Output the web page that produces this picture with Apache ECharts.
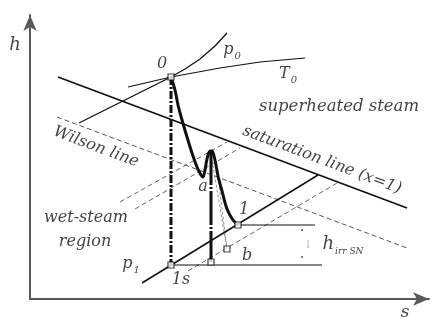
<!DOCTYPE html>
<html>
<head>
<meta charset="utf-8">
<title>h-s diagram</title>
<script src="https://cdn.jsdelivr.net/npm/echarts@6/dist/echarts.min.js"></script>
<style>
  html, body { margin: 0; padding: 0; background: #fff; }
  #chart { width: 439px; height: 326px; }
</style>
</head>
<body>
<div id="chart"></div>
<script>
// all values are (s, h) in diagram units
const point0 = [141, 222];
const point1 = [208, 74];
const point1s = [141, 34];
const pointB = [197, 50];
const pointFoot = [181, 37]; // foot of the second vertical

const saturationLine = [[28, 222], [377, 91]];
const wilsonLine = [[27, 182], [377, 51]];
const isobarP0 = [[49, 176], [141, 222], [155, 230], [170, 240], [185, 253], [197, 266]];
const isothermT0 = [[98, 212], [141, 222], [190, 231], [230, 237], [275, 241]];
const isobarP1 = [[112, 16], [288, 124]];
const isobarB = [[158, 28], [307, 116]];
const dashA = [[90, 97], [197, 157]];
const dashB = [[105, 90], [210, 151]];
const toB1 = [[182, 139], pointB];
const toB2 = [[188, 122], pointB];

// real expansion 0 -> a -> 1 (thick curve)
const expansion = [
  [141, 222], [145, 209], [148, 194], [152, 179], [157, 162], [162, 146],
  [167, 132], [171, 124], [173, 122], [175, 129], [177, 140], [180, 148],
  [182, 148], [185, 139], [188, 123], [192, 108], [197, 90], [203, 79], [208, 74]
];
const isentrope0 = [point0, point1s];
const isentropeA = [[181, 148], pointFoot];
const level1 = [point1, [285, 74]];
const level1s = [point1s, [292, 34]];
const hirrDots = [[272, 69], [272, 42]];

const chart = echarts.init(document.getElementById("chart"));

const serif = "DejaVu Serif";
const ink = "#111";

function line(data, width, type, color) {
  return {
    type: "line",
    data: data,
    showSymbol: false,
    silent: true,
    animation: false,
    clip: false,
    lineStyle: { width: width, type: type || "solid", color: color || ink },
  };
}

// text placed at diagram coordinates
function note(value, text, size, rotate, extra) {
  return {
    value: value,
    label: Object.assign(
      {
        show: true,
        position: "inside",
        formatter: text,
        fontFamily: serif,
        fontStyle: "italic",
        fontSize: size,
        color: ink,
        rotate: rotate || 0,
      },
      extra || {}
    ),
  };
}

const subRich = {
  i: { fontFamily: serif, fontStyle: "italic", fontSize: 16, color: ink, verticalAlign: "bottom" },
  sub: { fontFamily: serif, fontStyle: "italic", fontSize: 10, color: ink, verticalAlign: "bottom", padding: [0, 0, -3, 1] },
};

const notes = [
  note([-15, 254], "h", 18),
  note([375, -14], "s", 17),
  note([132, 235], "0", 16),
  note([202, 249], "{i|p}{sub|0}", 16, 0, { rich: subRich }),
  note([258, 225], "{i|T}{sub|0}", 16, 0, { rich: subRich }),
  note([309, 192], "superheated steam", 16.5),
  note([292, 139], "saturation line (x=1)", 16, -20.6),
  note([66, 152], "Wilson line", 16, -20.6),
  note([56, 81], "wet-steam", 16),
  note([55, 57], "region", 16),
  note([101, 35], "{i|p}{sub|1}", 16, 0, { rich: subRich }),
  note([151, 19], "1s", 16),
  note([173, 112], "a", 16),
  note([214, 89], "1", 16),
  note([217, 43], "b", 16),
  note([313, 55], "{i|h}{sub|irr SN}", 17, 0, {
    rich: {
      i: { fontFamily: serif, fontStyle: "italic", fontSize: 18, color: ink, verticalAlign: "bottom" },
      sub: { fontFamily: serif, fontStyle: "italic", fontSize: 9, color: ink, verticalAlign: "bottom", padding: [0, 0, -3, 1] },
    },
  }),
  note([278, 54], "↓", 11, 0, { color: "#aaa", fontStyle: "normal" }),
];

const axisStyle = {
  show: true,
  symbol: ["none", "arrow"],
  symbolSize: [10, 16],
  lineStyle: { color: "#5a5a5a", width: 2 },
};

const option = {
  animation: false,
  grid: { left: 30, right: 10, top: 15, bottom: 27 },
  xAxis: {
    type: "value",
    min: 0,
    max: 399,
    axisLine: axisStyle,
    axisTick: { show: false },
    axisLabel: { show: false },
    splitLine: { show: false },
  },
  yAxis: {
    type: "value",
    min: 0,
    max: 284,
    axisLine: axisStyle,
    axisTick: { show: false },
    axisLabel: { show: false },
    splitLine: { show: false },
  },
  series: [
    line(wilsonLine, 1, [5, 3], "#555"),
    line(dashA, 1, [5, 3], "#666"),
    line(dashB, 1, [5, 3], "#666"),
    line(isobarB, 1, [5, 3], "#666"),
    line(toB1, 0.8, [3, 2], "#777"),
    line(toB2, 0.8, [3, 2], "#777"),
    line(saturationLine, 1.7),
    line(isobarP0, 1.3),
    line(isothermT0, 1.1),
    line(isobarP1, 1.5),
    line(level1, 1.2),
    line(level1s, 1.2),
    line(isentrope0, 3, [8, 2, 2, 2]),
    line(isentropeA, 3, [34, 2, 2, 2]),
    Object.assign(line(expansion, 3), { smooth: 0.3 }),
    {
      type: "scatter",
      data: hirrDots,
      symbol: "circle",
      symbolSize: 2,
      silent: true,
      itemStyle: { color: "#222" },
    },
    {
      type: "scatter",
      data: [point0, point1, point1s, pointB, pointFoot],
      symbol: "rect",
      symbolSize: 6,
      silent: true,
      z: 5,
      itemStyle: { color: "#fff", borderColor: ink, borderWidth: 1.2 },
    },
    {
      type: "scatter",
      data: notes,
      symbolSize: 0,
      silent: true,
      clip: false,
      z: 6,
    },
  ],
};

chart.setOption(option);
</script>
</body>
</html>
